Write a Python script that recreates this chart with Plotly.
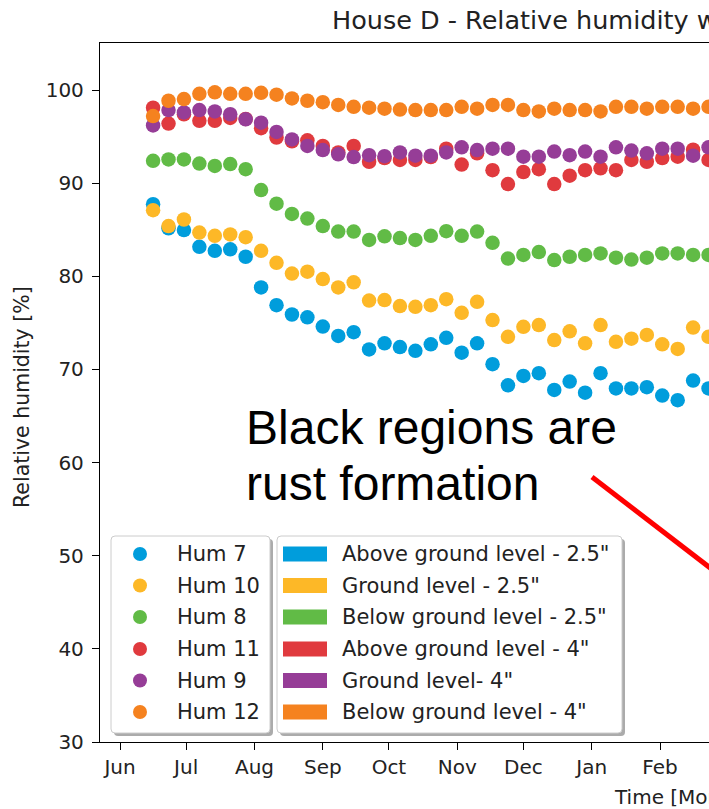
import pandas as pd
import plotly.graph_objects as go

# Weekly sensor readings, House D (relative humidity, %)
dates = pd.date_range("2021-06-16", periods=37, freq="7D")

hum7 = [87.75, 85.15, 84.96, 83.17, 82.74, 82.9, 82.1, 78.8, 76.9, 75.9, 75.6, 74.6,
        73.6, 74.0, 72.15, 72.8, 72.4, 72.0, 72.7, 73.4, 71.8, 72.8, 70.57, 68.3,
        69.3, 69.6, 67.8, 68.7, 67.5, 69.6, 67.96, 67.96, 68.1, 67.2, 66.7, 68.8, 67.96]
hum10 = [87.1, 85.4, 86.1, 84.7, 84.35, 84.5, 84.2, 82.74, 81.45, 80.3, 80.5, 79.7,
         78.8, 79.35, 77.4, 77.45, 76.8, 76.73, 76.9, 77.55, 76.08, 77.26, 75.3, 73.5,
         74.58, 74.76, 73.15, 74.1, 72.8, 74.76, 72.97, 73.3, 73.7, 72.7, 72.2, 74.5, 73.5]
hum8 = [92.4, 92.55, 92.55, 92.1, 91.85, 92.05, 91.5, 89.26, 87.8, 86.7, 86.2, 85.4,
        84.8, 84.8, 83.9, 84.3, 84.1, 83.9, 84.35, 84.85, 84.35, 84.8, 83.6, 81.9,
        82.3, 82.6, 81.75, 82.1, 82.3, 82.46, 82.0, 81.8, 82.0, 82.46, 82.46, 82.3, 82.3]
hum11 = [98.1, 96.4, 97.4, 96.7, 96.7, 97.0, 96.9, 95.9, 94.9, 94.5, 94.6, 94.0,
         93.3, 94.0, 92.3, 92.7, 92.5, 92.5, 92.8, 93.7, 92.0, 93.2, 91.4, 89.9,
         91.2, 91.5, 89.9, 90.8, 91.4, 91.6, 91.4, 92.5, 92.3, 92.7, 92.85, 93.6, 92.5]
hum9 = [96.2, 97.85, 97.6, 97.85, 97.7, 97.4, 96.85, 96.5, 95.5, 94.7, 94.0, 93.55,
        93.1, 92.8, 93.0, 92.9, 93.3, 92.95, 92.95, 93.3, 93.85, 93.55, 93.7, 93.7,
        92.85, 92.85, 93.4, 93.0, 93.4, 92.85, 93.85, 93.5, 93.2, 93.7, 93.7, 92.95, 93.85]
hum12 = [97.2, 98.85, 99.03, 99.6, 99.75, 99.6, 99.6, 99.7, 99.5, 99.1, 98.85, 98.7,
         98.4, 98.2, 98.1, 98.0, 97.9, 97.85, 97.85, 97.85, 98.2, 98.0, 98.4, 98.4,
         97.85, 97.7, 98.0, 97.85, 97.85, 97.7, 98.2, 98.2, 98.0, 98.2, 98.2, 98.0, 98.2]

sensor_names = ["Hum 7", "Hum 10", "Hum 8", "Hum 11", "Hum 9", "Hum 12"]
sensor_values = [hum7, hum10, hum8, hum11, hum9, hum12]
sensor_colors = ["#009DDC", "#FDB827", "#61BB46", "#E03A3E", "#963D97", "#F5821F"]
locations = ['Above ground level - 2.5"', 'Ground level - 2.5"', 'Below ground level - 2.5"',
             'Above ground level - 4"', 'Ground level- 4"', 'Below ground level - 4"']

y_ticks = [30, 40, 50, 60, 70, 80, 90, 100]

FONT = "DejaVu Sans"
TXT = "#222222"

# figure geometry (pixels)
W, H = 709, 809
L, R, T, B = 100, 709, 43, 742


def fx(x):
    return (x - L) / (R - L)


def fy(y):
    return (B - y) / (B - T)


def rounded_box(x0, y0, x1, y1, r):
    pts = [
        f"M{fx(x0 + r)},{fy(y0)}", f"L{fx(x1 - r)},{fy(y0)}",
        f"Q{fx(x1)},{fy(y0)} {fx(x1)},{fy(y0 + r)}", f"L{fx(x1)},{fy(y1 - r)}",
        f"Q{fx(x1)},{fy(y1)} {fx(x1 - r)},{fy(y1)}", f"L{fx(x0 + r)},{fy(y1)}",
        f"Q{fx(x0)},{fy(y1)} {fx(x0)},{fy(y1 - r)}", f"L{fx(x0)},{fy(y0 + r)}",
        f"Q{fx(x0)},{fy(y0)} {fx(x0 + r)},{fy(y0)}", "Z",
    ]
    return " ".join(pts)


fig = go.Figure()
for name, vals, col in zip(sensor_names, sensor_values, sensor_colors):
    fig.add_trace(go.Scatter(
        x=dates, y=vals, mode="markers", name=name,
        marker=dict(size=14.5, color=col, line=dict(width=0)),
        showlegend=False,
    ))

shapes = []
annotations = []

# legend frames with drop shadow
for (x0, y0, x1, y1) in [(111, 536, 270, 733), (277, 536, 622, 733)]:
    shapes.append(dict(type="path", xref="paper", yref="paper",
                       path=rounded_box(x0 + 3, y0 + 3, x1 + 3, y1 + 3, 4),
                       fillcolor="rgba(0,0,0,0.33)", line=dict(width=0)))
    shapes.append(dict(type="path", xref="paper", yref="paper",
                       path=rounded_box(x0, y0, x1, y1, 4),
                       fillcolor="white", line=dict(color="#cccccc", width=1)))

rows = [554, 585.5, 617, 649, 680.5, 712]
for row, name, loc, col in zip(rows, sensor_names, locations, sensor_colors):
    # marker key
    shapes.append(dict(type="circle", xref="paper", yref="paper",
                       x0=fx(140 - 7), x1=fx(140 + 7), y0=fy(row + 7), y1=fy(row - 7),
                       fillcolor=col, line=dict(width=0)))
    annotations.append(dict(xref="paper", yref="paper", x=fx(175), y=fy(row),
                            xanchor="left", yanchor="middle", showarrow=False,
                            text=name, font=dict(family=FONT, size=21, color=TXT)))
    # patch key
    shapes.append(dict(type="rect", xref="paper", yref="paper",
                       x0=fx(283), x1=fx(327), y0=fy(row + 7.5), y1=fy(row - 7.5),
                       fillcolor=col, line=dict(width=0)))
    annotations.append(dict(xref="paper", yref="paper", x=fx(340), y=fy(row),
                            xanchor="left", yanchor="middle", showarrow=False,
                            text=loc, font=dict(family=FONT, size=21, color=TXT)))

# pointer line
shapes.append(dict(type="line", xref="paper", yref="paper",
                   x0=fx(592), y0=fy(477), x1=fx(750), y1=fy(598.5),
                   line=dict(color="#FF0000", width=5)))

# note text
annotations.append(dict(xref="paper", yref="paper", x=fx(244), y=fy(427),
                        xanchor="left", yanchor="middle", showarrow=False,
                        text="Black regions are",
                        font=dict(family="Liberation Sans", size=48, color="black")))
annotations.append(dict(xref="paper", yref="paper", x=fx(244), y=fy(483),
                        xanchor="left", yanchor="middle", showarrow=False,
                        text="rust formation",
                        font=dict(family="Liberation Sans", size=48, color="black")))

# title and axis titles
annotations.append(dict(xref="paper", yref="paper", x=fx(330), y=fy(20),
                        xanchor="left", yanchor="middle", showarrow=False,
                        text="House D - Relative humidity with time",
                        font=dict(family=FONT, size=25.5, color=TXT)))
annotations.append(dict(xref="paper", yref="paper", x=fx(612), y=fy(797),
                        xanchor="left", yanchor="middle", showarrow=False,
                        text="Time [Months]",
                        font=dict(family=FONT, size=20, color=TXT)))
annotations.append(dict(xref="paper", yref="paper", x=fx(22), y=fy(397),
                        xanchor="center", yanchor="middle", showarrow=False,
                        textangle=-90, text="Relative humidity [%]",
                        font=dict(family=FONT, size=20.5, color=TXT)))

fig.update_layout(
    width=W, height=H,
    margin=dict(l=L, r=W - R, t=T, b=H - B, pad=0),
    paper_bgcolor="white", plot_bgcolor="white",
    shapes=shapes, annotations=annotations,
    font=dict(family=FONT, size=20, color=TXT),
)

fig.update_xaxes(
    type="date",
    range=["2021-05-22 22:00", "2022-02-23 05:00"],
    tick0="2021-06-01", dtick="M1", tickformat="%b",
    ticks="outside", ticklen=7, tickwidth=1.3, tickcolor="black",
    showline=True, linecolor="black", linewidth=1.3, mirror=True,
    showgrid=False, zeroline=False,
    tickfont=dict(family=FONT, size=20, color=TXT),
)
fig.update_yaxes(
    range=[30, 105.05], tickvals=y_ticks,
    ticks="outside", ticklen=7, tickwidth=1.3, tickcolor="black",
    showline=True, linecolor="black", linewidth=1.3, mirror=False,
    showgrid=False, zeroline=False, ticklabelstandoff=4,
    tickfont=dict(family=FONT, size=20, color=TXT),
)

fig.write_html("out.html", config={"displayModeBar": False})
